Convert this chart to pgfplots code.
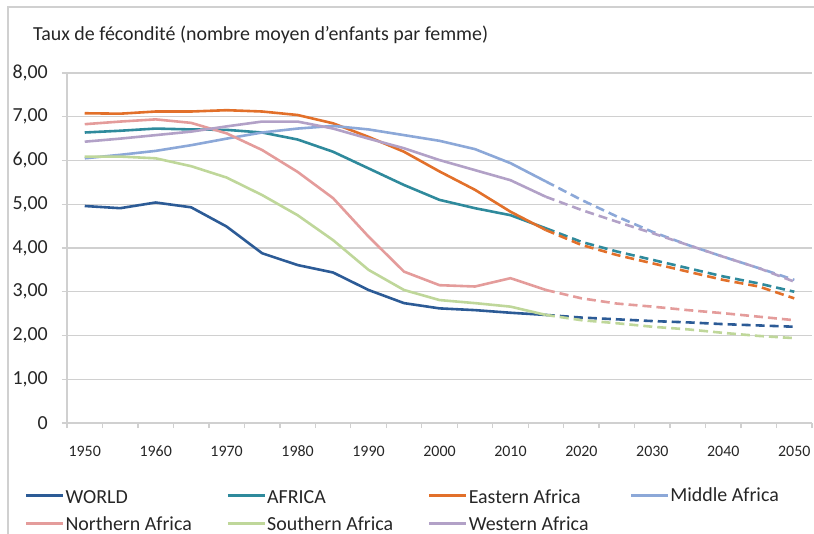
\documentclass[border=0pt]{standalone}
\usepackage{fontspec}
\setmainfont{Carlito}[Numbers=Lining]
\usepackage{pgfplots}
\pgfplotsset{compat=1.18}
\usepackage{pgfplotstable}
\definecolor{cW}{HTML}{2C5B96}
\definecolor{cAF}{HTML}{2F8A9C}
\definecolor{cEA}{HTML}{E2702A}
\definecolor{cMA}{HTML}{8CA8D8}
\definecolor{cNA}{HTML}{E49C9B}
\definecolor{cSA}{HTML}{BFD79A}
\definecolor{cWA}{HTML}{B2A1C7}
\definecolor{gridc}{HTML}{D0D0D0}
\definecolor{txt}{HTML}{262626}

\pgfplotstableread{
year W AF EA MA NA SA WA
1950 4.96 6.64 7.08 6.05 6.83 6.09 6.43
1955 4.91 6.68 7.07 6.13 6.89 6.09 6.50
1960 5.04 6.73 7.12 6.22 6.94 6.05 6.58
1965 4.93 6.71 7.12 6.35 6.86 5.87 6.66
1970 4.49 6.70 7.15 6.50 6.62 5.61 6.78
1975 3.88 6.64 7.12 6.64 6.24 5.21 6.89
1980 3.61 6.48 7.04 6.73 5.74 4.75 6.89
1985 3.44 6.20 6.85 6.79 5.14 4.18 6.73
1990 3.04 5.82 6.54 6.71 4.26 3.50 6.50
1995 2.74 5.44 6.20 6.58 3.46 3.04 6.28
2000 2.62 5.10 5.75 6.45 3.15 2.81 6.01
2005 2.58 4.91 5.33 6.26 3.12 2.74 5.78
2010 2.52 4.75 4.83 5.94 3.31 2.66 5.55
2015 2.47 4.45 4.41 5.52 3.04 2.47 5.17
2020 2.41 4.14 4.07 5.10 2.85 2.35 4.87
2025 2.37 3.92 3.84 4.72 2.73 2.28 4.60
2030 2.33 3.73 3.65 4.37 2.66 2.20 4.34
2035 2.30 3.54 3.46 4.07 2.58 2.14 4.07
2040 2.26 3.35 3.27 3.80 2.51 2.06 3.80
2045 2.23 3.19 3.12 3.54 2.43 1.99 3.54
2050 2.20 3.00 2.85 3.27 2.35 1.94 3.23
}\data

\newcommand{\LE}[1]{\makebox[160bp][l]{\strut #1}}

\begin{document}
\begin{tikzpicture}
\begin{axis}[
  name=ax,
  scale only axis, width=745bp, height=350bp,
  xmin=1947.5, xmax=2052.5, ymin=0, ymax=8,
  axis lines*=left,
  axis line style={-, draw=gridc, line width=1.3bp},
  tick align=outside, major tick length=5bp, minor tick length=5bp,
  tick style={draw=gridc, line width=1.3bp},
  xtick={1950,1960,1970,1980,1990,2000,2010,2020,2030,2040,2050},
  xticklabels={1950,1960,1970,1980,1990,2000,2010,2020,2030,2040,2050},
  minor xtick={1947.5,1952.5,1957.5,1962.5,1967.5,1972.5,1977.5,1982.5,1987.5,1992.5,1997.5,2002.5,2007.5,2012.5,2017.5,2022.5,2027.5,2032.5,2037.5,2042.5,2047.5,2052.5},
  every major x tick/.append style={draw=none},
  xticklabel style={font=\fontsize{16}{19}\selectfont, text=txt, anchor=base, inner sep=0pt, yshift=-28bp},
  ytick={0,1,2,3,4,5,6,7,8},
  yticklabels={0,{1,00},{2,00},{3,00},{4,00},{5,00},{6,00},{7,00},{8,00}},
  yticklabel style={font=\fontsize{20}{24}\selectfont, text=txt, anchor=east, inner sep=0pt, xshift=-14bp},
  /pgf/number format/assume math mode=true,
  ymajorgrids, grid style={draw=gridc, line width=1.3bp},
  title={Taux de fécondité (nombre moyen d'enfants par femme)},
  title style={at={(axis description cs:-0.0456,1.0771)}, anchor=base west, inner sep=0pt, font=\fontsize{20}{24}\selectfont, text=txt},
  legend columns=4,
  legend cell align=left,
  legend style={at={(axis description cs:-0.05638,-0.18)}, anchor=north west, draw=none, fill=none, inner sep=0pt, outer sep=0pt, font=\fontsize{20}{23}\selectfont, text=txt, nodes={inner sep=1bp}, row sep=8bp, column sep=0pt},
  legend image code/.code={\draw[#1, solid] (0bp,0bp) -- (37bp,0bp);},
  every axis plot/.append style={line width=2.6bp, line join=round},
  clip=false,
]
\addplot[cW, restrict x to domain=1950:2015] table[x=year,y=W]{\data};
\addlegendentry{\LE{WORLD}}
\addplot[cAF, restrict x to domain=1950:2015] table[x=year,y=AF]{\data};
\addlegendentry{\LE{AFRICA}}
\addplot[cEA, restrict x to domain=1950:2015] table[x=year,y=EA]{\data};
\addlegendentry{\LE{Eastern Africa}}
\addplot[cMA, restrict x to domain=1950:2015] table[x=year,y=MA]{\data};
\addlegendentry{Middle Africa}
\addplot[cNA, restrict x to domain=1950:2015] table[x=year,y=NA]{\data};
\addlegendentry{\LE{Northern Africa}}
\addplot[cSA, restrict x to domain=1950:2015] table[x=year,y=SA]{\data};
\addlegendentry{\LE{Southern Africa}}
\addplot[cWA, restrict x to domain=1950:2015] table[x=year,y=WA]{\data};
\addlegendentry{\LE{Western Africa}}

\addplot[cW, dash pattern=on 9bp off 5bp, forget plot, restrict x to domain=2015:2050] table[x=year,y=W]{\data};
\addplot[cAF, dash pattern=on 9bp off 5bp, forget plot, restrict x to domain=2015:2050] table[x=year,y=AF]{\data};
\addplot[cEA, dash pattern=on 9bp off 5bp, forget plot, restrict x to domain=2015:2050] table[x=year,y=EA]{\data};
\addplot[cMA, dash pattern=on 9bp off 5bp, forget plot, restrict x to domain=2015:2050] table[x=year,y=MA]{\data};
\addplot[cNA, dash pattern=on 9bp off 5bp, forget plot, restrict x to domain=2015:2050] table[x=year,y=NA]{\data};
\addplot[cSA, dash pattern=on 9bp off 5bp, forget plot, restrict x to domain=2015:2050] table[x=year,y=SA]{\data};
\addplot[cWA, dash pattern=on 9bp off 5bp, forget plot, restrict x to domain=2015:2050] table[x=year,y=WA]{\data};
\end{axis}
\pgfresetboundingbox
\path[use as bounding box] ([shift={(-67bp,-111bp)}]ax.south west) rectangle ([shift={(747bp,423bp)}]ax.south west);
\draw[draw=gridc, line width=1.5bp] ([shift={(-59bp,-130bp)}]ax.south west) -- ([shift={(-59bp,416bp)}]ax.south west) -- ([shift={(770bp,416bp)}]ax.south west);
\end{tikzpicture}
\end{document}
